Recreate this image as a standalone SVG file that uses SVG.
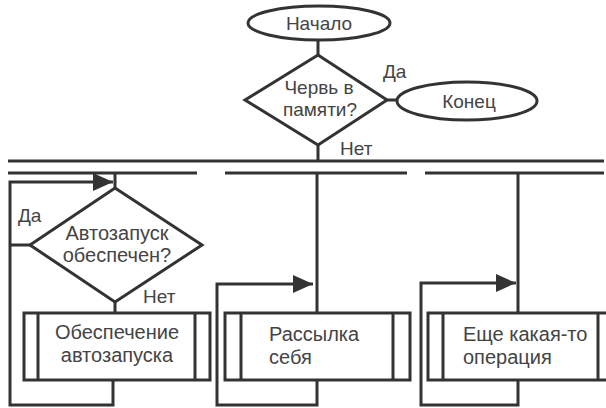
<svg xmlns="http://www.w3.org/2000/svg" width="606" height="408" viewBox="0 0 606 408">
<style>
.s{fill:none;stroke:#333;stroke-width:3}
.n{fill:#fff;stroke:#333;stroke-width:3}
.t{font-family:"Liberation Sans",Arial,sans-serif;font-size:19px;fill:#444}
.b{font-size:20px}
.c{text-anchor:middle}
</style>
<defs>
<marker id="b" markerWidth="20" markerHeight="18" refX="20" refY="9" orient="auto" markerUnits="userSpaceOnUse" viewBox="0 0 20 18">
<path d="M0,0 L20,9 L0,18 z" fill="#333"/>
</marker>
</defs>
<rect width="606" height="408" fill="#fff"/>
<g id="connectors">
<path class="s" d="M318,40 V55"/>
<path class="s" d="M387,100 H398"/>
<path class="s" d="M318,145 V161"/>
<path class="s" d="M8,161 H604"/>
<path class="s" d="M8,173 H197 M225,173 H407 M425,173 H604"/>
<path class="s" d="M115,173 V188"/>
<path class="s" d="M115,302 V313"/>
<path class="s" d="M113,380 V405 H10 V182 H113" marker-end="url(#b)"/>
<path class="s" d="M30,245 H10"/>
<path class="s" d="M317,173 V313"/>
<path class="s" d="M317,380 V405 H217 V284 H313" marker-end="url(#b)"/>
<path class="s" d="M518,173 V313"/>
<path class="s" d="M518,380 V405 H421 V283 H516" marker-end="url(#b)"/>
</g>
<g id="start">
<ellipse class="n" cx="319" cy="23" rx="71" ry="17"/>
<text class="t c" x="319" y="30">Начало</text>
</g>
<g id="check-memory">
<path class="n" d="M318,55 L387,100 L318,145 L245,100 Z"/>
<text class="t c" x="319" y="94">Червь в</text>
<text class="t c" x="320" y="116">памяти?</text>
</g>
<g id="end">
<ellipse class="n" cx="467" cy="101" rx="70" ry="19"/>
<text class="t c" x="469" y="108">Конец</text>
</g>
<g id="check-autorun">
<path class="n" d="M115,188 L202,245 L115,302 L30,245 Z"/>
<text class="t b c" x="117" y="240">Автозапуск</text>
<text class="t b c" x="117" y="262">обеспечен?</text>
</g>
<g id="autorun">
<rect class="n" x="24" y="313" width="186" height="67"/>
<path class="s" d="M38,313 V380 M195,313 V380"/>
<text class="t b c" x="117" y="339">Обеспечение</text>
<text class="t b c" x="117" y="362">автозапуска</text>
</g>
<g id="send">
<rect class="n" x="225" y="313" width="185" height="67"/>
<path class="s" d="M241,313 V380 M393,313 V380"/>
<text class="t b" x="269" y="341">Рассылка</text>
<text class="t b" x="269" y="364">себя</text>
</g>
<g id="other">
<rect class="n" x="428" y="313" width="190" height="67"/>
<path class="s" d="M443,313 V380 M598,313 V380"/>
<text class="t b" x="463" y="341">Еще какая-то</text>
<text class="t b" x="463" y="364">операция</text>
</g>
<g id="labels">
<text class="t" x="383" y="78">Да</text>
<text class="t" x="340" y="155">Нет</text>
<text class="t" x="18" y="222">Да</text>
<text class="t" x="143" y="303">Нет</text>
</g>
</svg>
